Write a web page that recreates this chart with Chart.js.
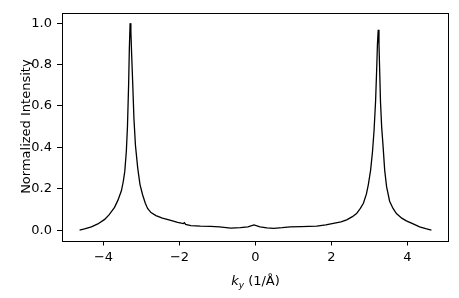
<!DOCTYPE html>
<html>
<head>
<meta charset="utf-8">
<script src="https://cdn.jsdelivr.net/npm/chart.js@4/dist/chart.umd.min.js"></script>
<style>
  body { margin: 0; background: #fff; }
  #wrap { width: 459px; height: 298px; position: relative; }
</style>
</head>
<body>
<div id="wrap"><canvas id="myChart"></canvas></div>
<script>
// k_y values (1/Å)
var ky = [
  -4.63, -4.50, -4.32, -4.15, -3.97, -3.85, -3.71, -3.62, -3.53, -3.48,
  -3.44, -3.40, -3.37, -3.34, -3.32, -3.30, -3.28, -3.26, -3.23, -3.20,
  -3.16, -3.10, -3.04, -2.97, -2.90, -2.84, -2.75, -2.62, -2.45, -2.23,
  -2.05, -1.90, -1.87, -1.84, -1.70, -1.45, -1.18, -0.95, -0.65, -0.40,
  -0.20, -0.04, 0.12, 0.30, 0.48, 0.70, 0.92, 1.20, 1.61, 1.85,
  2.05, 2.25, 2.40, 2.55, 2.66, 2.76, 2.84, 2.92, 2.97, 3.03,
  3.08, 3.12, 3.16, 3.19, 3.21, 3.23, 3.25, 3.27, 3.29, 3.32,
  3.36, 3.40, 3.45, 3.53, 3.62, 3.71, 3.85, 3.97, 4.15, 4.32,
  4.48, 4.63
];
var intensity = [
  0.000, 0.006, 0.016, 0.030, 0.052, 0.075, 0.110, 0.145, 0.190, 0.235,
  0.285, 0.380, 0.500, 0.700, 0.880, 1.000, 0.960, 0.850, 0.700, 0.540,
  0.410, 0.300, 0.220, 0.170, 0.130, 0.105, 0.085, 0.070, 0.058, 0.047,
  0.038, 0.032, 0.036, 0.028, 0.022, 0.019, 0.018, 0.016, 0.010, 0.012,
  0.016, 0.025, 0.016, 0.011, 0.009, 0.012, 0.016, 0.017, 0.019, 0.025,
  0.033, 0.040, 0.050, 0.065, 0.080, 0.105, 0.130, 0.175, 0.220, 0.290,
  0.380, 0.480, 0.620, 0.780, 0.900, 0.968, 0.900, 0.760, 0.620, 0.500,
  0.400, 0.290, 0.210, 0.140, 0.105, 0.080, 0.058, 0.045, 0.030, 0.016,
  0.007, 0.000
];
var xTicks = [-4, -2, 0, 2, 4];
var yTicks = [0.0, 0.2, 0.4, 0.6, 0.8, 1.0];

var points = ky.map(function (k, i) { return { x: k, y: intensity[i] }; });

function minusSign(s) { return s.replace('-', '\u2212'); }

Chart.defaults.font.family = 'DejaVu Sans';
Chart.defaults.font.size = 13;
Chart.defaults.color = '#000';

// frame round the plot area plus the axis titles (subscript needs manual drawing)
var framePlugin = {
  id: 'frame',
  afterDraw: function (chart) {
    var c = chart.ctx, a = chart.chartArea;
    c.save();
    c.strokeStyle = '#000';
    c.lineWidth = 1;
    c.strokeRect(Math.round(a.left) + 0.5, Math.round(a.top) + 0.5,
                 Math.round(a.right - a.left) - 1, Math.round(a.bottom - a.top));

    // y title
    c.fillStyle = '#000';
    c.font = '13px "DejaVu Sans"';
    c.textAlign = 'center';
    c.textBaseline = 'alphabetic';
    c.translate(29.5, (a.top + a.bottom) / 2);
    c.rotate(-Math.PI / 2);
    c.fillText('Normalized Intensity', 0, 0);
    c.restore();

    // x title: k_y (1/Å)
    c.save();
    c.fillStyle = '#000';
    c.textBaseline = 'alphabetic';
    c.textAlign = 'left';
    var big = 'italic 13px "DejaVu Sans"';
    var small = 'italic 9px "DejaVu Sans"';
    var rest = '13px "DejaVu Sans"';
    c.font = big; var w1 = c.measureText('k').width;
    c.font = small; var w2 = c.measureText('y').width;
    c.font = rest; var w3 = c.measureText(' (1/\u00C5)').width;
    var total = w1 + w2 + w3;
    var x0 = (a.left + a.right) / 2 - total / 2;
    var base = 285;
    c.font = big; c.fillText('k', x0, base);
    c.font = small; c.fillText('y', x0 + w1, base + 3);
    c.font = rest; c.fillText(' (1/\u00C5)', x0 + w1 + w2, base);
    c.restore();
  }
};

var ctx = document.getElementById('myChart').getContext('2d');
var myChart = new Chart(ctx, {
  type: 'scatter',
  data: {
    datasets: [{
      data: points,
      showLine: true,
      borderColor: '#000',
      borderWidth: 1.3,
      pointRadius: 0,
      tension: 0,
      fill: false
    }]
  },
  options: {
    responsive: true,
    maintainAspectRatio: false,
    animation: false,
    layout: { padding: { top: 10, right: 10, left: 0, bottom: 0 } },
    plugins: {
      legend: { display: false },
      tooltip: { enabled: false }
    },
    scales: {
      x: {
        type: 'linear',
        min: -5.093,
        max: 5.093,
        afterFit: function (scale) { scale.height = 57.5; },
        afterBuildTicks: function (scale) {
          scale.ticks = xTicks.map(function (v) { return { value: v }; });
        },
        border: { display: false },
        grid: { drawOnChartArea: false, drawTicks: true, tickLength: 5, color: '#000', lineWidth: 1 },
        ticks: {
          padding: 4,
          maxRotation: 0,
          callback: function (v) { return minusSign(String(v)); }
        }
      },
      y: {
        type: 'linear',
        min: -0.05,
        max: 1.05,
        afterFit: function (scale) { scale.width = 62; },
        afterBuildTicks: function (scale) {
          scale.ticks = yTicks.map(function (v) { return { value: v }; });
        },
        border: { display: false },
        grid: { drawOnChartArea: false, drawTicks: true, tickLength: 5, color: '#000', lineWidth: 1 },
        ticks: {
          padding: 5,
          callback: function (v) { return minusSign(v.toFixed(1)); }
        }
      }
    }
  },
  plugins: [framePlugin]
});
</script>
</body>
</html>
